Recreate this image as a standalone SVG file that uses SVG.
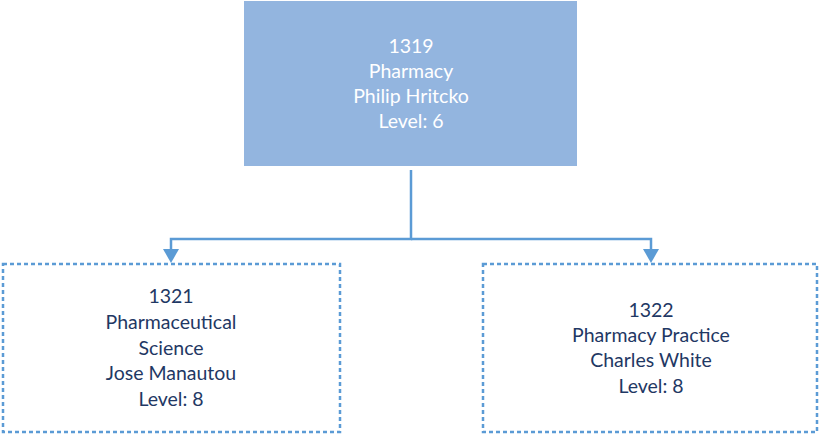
<svg xmlns="http://www.w3.org/2000/svg" width="819" height="435" viewBox="0 0 819 435">
<defs>
<style>
.t{font-family:Lato,"Open Sans","Liberation Sans",sans-serif;font-size:19.5px;text-anchor:middle}
.w{fill:#ffffff}
.d{fill:#1f3864}
.child{fill:#ffffff;stroke:#5b9bd5;stroke-width:2.5;stroke-dasharray:4 3}
.conn{fill:none;stroke:#5b9bd5;stroke-width:2.5}
.ah{fill:#5b9bd5}
</style>
</defs>
<g id="connectors">
<path class="conn" d="M411,170 V239 H171 V249"/>
<path class="conn" d="M411,239 H651 V249"/>
<path class="ah" d="M163,249 H179 L171,263 Z"/>
<path class="ah" d="M643,249 H659 L651,263 Z"/>
</g>
<g id="n1319">
<rect x="244" y="1" width="333" height="165" fill="#93b5df"/>
<text class="t w" x="411" y="53">1319</text>
<text class="t w" x="411" y="78">Pharmacy</text>
<text class="t w" x="411" y="103">Philip Hritcko</text>
<text class="t w" x="411" y="128">Level: 6</text>
</g>
<g id="n1321">
<rect class="child" x="3" y="264" width="337" height="168"/>
<text class="t d" x="171" y="303">1321</text>
<text class="t d" x="171" y="329">Pharmaceutical</text>
<text class="t d" x="171" y="355">Science</text>
<text class="t d" x="171" y="380">Jose Manautou</text>
<text class="t d" x="171" y="406">Level: 8</text>
</g>
<g id="n1322">
<rect class="child" x="483" y="264" width="334" height="168"/>
<text class="t d" x="651" y="317">1322</text>
<text class="t d" x="651" y="342">Pharmacy Practice</text>
<text class="t d" x="651" y="367">Charles White</text>
<text class="t d" x="651" y="393">Level: 8</text>
</g>
</svg>
